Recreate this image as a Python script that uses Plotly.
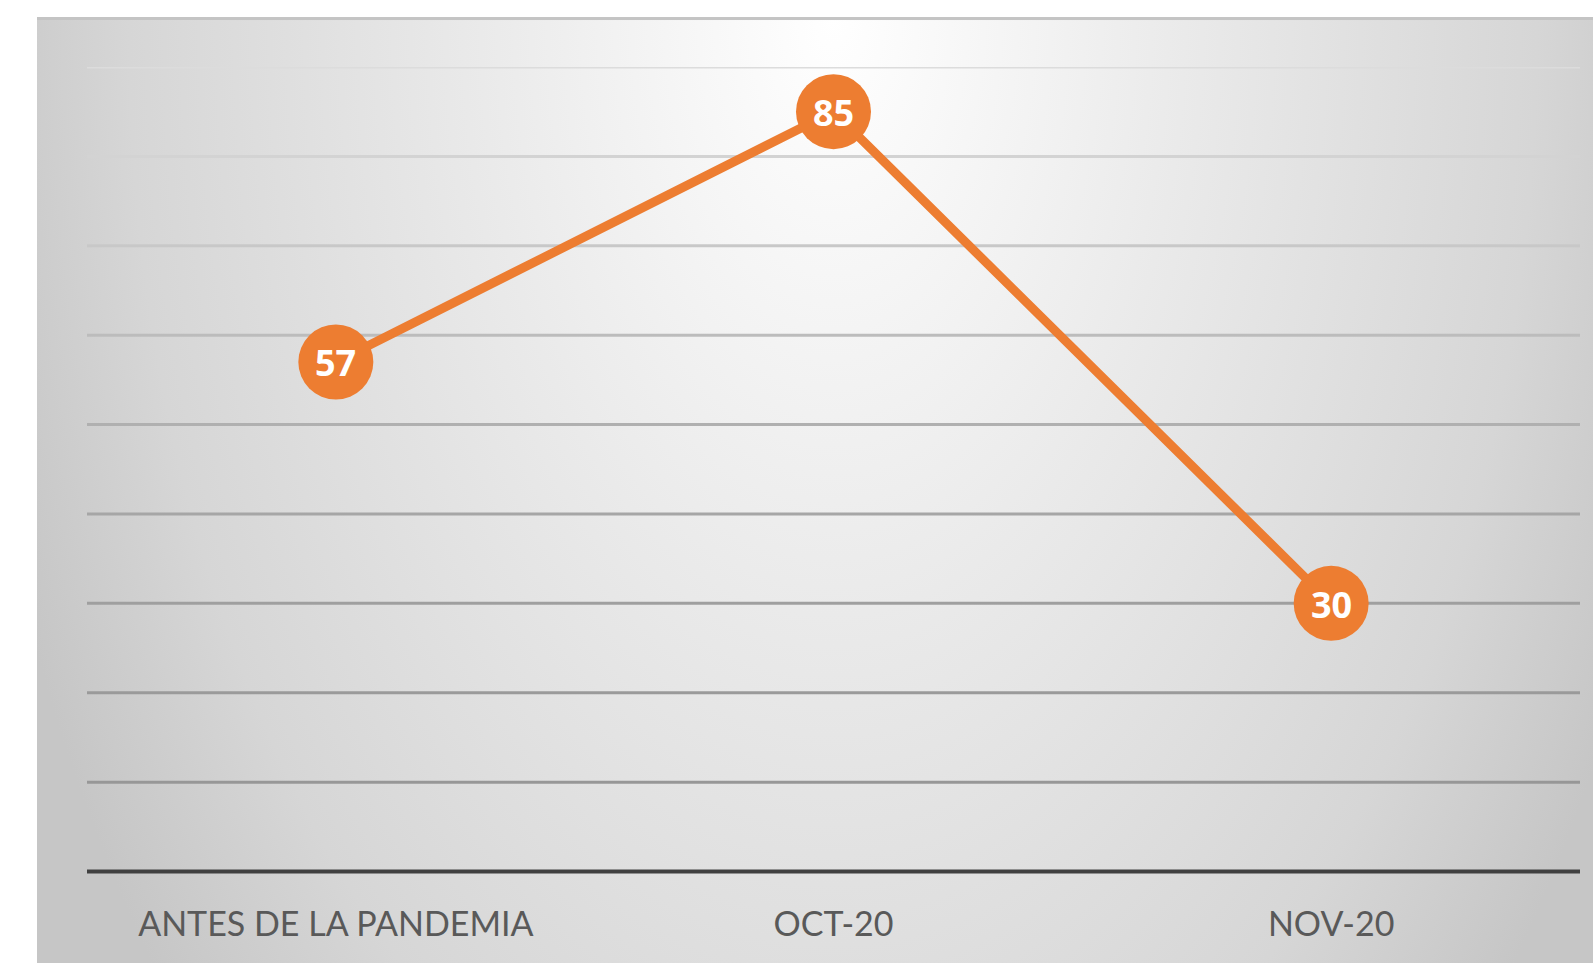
import base64
import plotly.graph_objects as go

categories = ["ANTES DE LA PANDEMIA", "OCT-20", "NOV-20"]
values = [57, 85, 30]
grid_values = [10, 20, 30, 40, 50, 60, 70, 80, 90]
grid_colors = ["#979797", "#9a9a9a", "#9f9f9f", "#a6a6a6", "#b0b0b0",
               "#bcbcbc", "#c8c8c8", "#d3d3d3", "#dcdcdc"]

W, H = 1593, 963
plot_left, plot_right, plot_top, plot_zero = 87, 1580, 67, 872
ymin, ymax = -0.5, 90
unit = (plot_zero - plot_top) / ymax
plot_bottom = plot_zero - ymin * unit
L = plot_left
R = W - plot_right
T = plot_top
B = H - plot_bottom
pw = plot_right - plot_left
ph = plot_bottom - plot_top

# background box (radial gradient) from x=37, y=17 to the page edge
bx0, by0 = 37, 17
bw, bh = W - bx0, H - by0 + 4
cx = 833 - bx0
svg = f'''<svg xmlns="http://www.w3.org/2000/svg" width="{bw}" height="{bh}" viewBox="0 0 {bw} {bh}">
<defs><radialGradient id="g" gradientUnits="userSpaceOnUse" cx="{cx}" cy="0" r="880"
 gradientTransform="translate({cx},0) scale(1,1.7) translate({-cx},0)">
<stop offset="0" stop-color="#ffffff"/>
<stop offset="0.4" stop-color="#eaeaea"/>
<stop offset="0.8" stop-color="#d6d6d6"/>
<stop offset="1" stop-color="#c6c6c6"/>
</radialGradient></defs>
<rect x="0" y="0" width="{bw}" height="{bh}" fill="url(#g)"/>
<rect x="0" y="0" width="{bw}" height="3" fill="#c4c4c4"/>
</svg>'''
src = "data:image/svg+xml;base64," + base64.b64encode(svg.encode()).decode()

fig = go.Figure()
fig.add_trace(go.Scatter(
    x=categories, y=values, mode="lines+markers",
    line=dict(color="#ED7D31", width=9),
    marker=dict(color="#ED7D31", size=75, line=dict(width=0)),
    cliponaxis=False, showlegend=False, hoverinfo="skip",
))

annotations = [dict(x=c, y=v, xref="x", yref="y", text=f"<b>{v}</b>", showarrow=False,
                    yshift=-1, font=dict(family="Open Sans", size=36, color="white"))
               for c, v in zip(categories, values)]

shapes = []
for gv, gc in zip(grid_values, grid_colors):
    shapes.append(dict(type="line", xref="paper", yref="y", x0=0, x1=1, y0=gv, y1=gv,
                       line=dict(color=gc, width=3), layer="below"))
shapes.append(dict(type="line", xref="paper", yref="y", x0=0, x1=1, y0=0, y1=0,
                   line=dict(color="#404040", width=4), layer="below"))

fig.update_layout(
    width=W, height=H,
    margin=dict(l=L, r=R, t=T, b=B, pad=0),
    paper_bgcolor="white", plot_bgcolor="rgba(0,0,0,0)",
    shapes=shapes, annotations=annotations,
    images=[dict(source=src, xref="paper", yref="paper",
                 x=(bx0 - plot_left) / pw, y=(plot_bottom - by0) / ph,
                 sizex=bw / pw, sizey=bh / ph,
                 xanchor="left", yanchor="top", sizing="stretch", layer="below")],
    xaxis=dict(type="category", range=[-0.5, 2.5], showgrid=False, zeroline=False,
               showline=False, ticks="outside", ticklen=18, tickcolor="rgba(0,0,0,0)",
               tickfont=dict(family="Lato", size=34, color="#595959")),
    yaxis=dict(range=[ymin, ymax], showgrid=False, zeroline=False, showline=False,
               showticklabels=False, ticks=""),
)

fig.write_html("out.html", config={"displayModeBar": False},
               post_script="document.body.style.margin='0';document.body.style.overflow='hidden';")
